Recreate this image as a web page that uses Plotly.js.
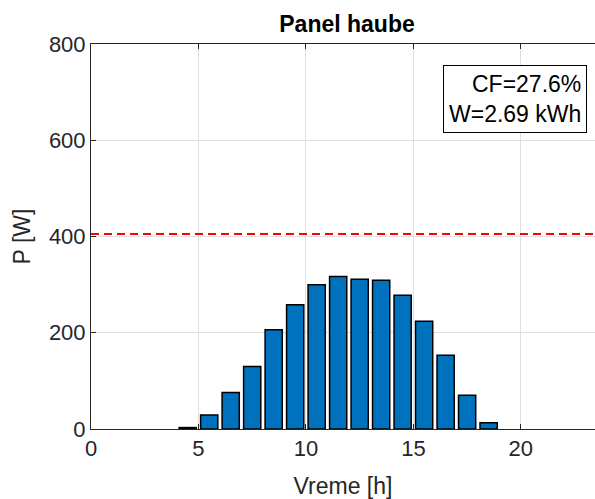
<!DOCTYPE html>
<html>
<head>
<meta charset="utf-8">
<script src="https://cdn.plot.ly/plotly-3.0.1.min.js"></script>
<style>html,body{margin:0;padding:0;background:#fff;}#chart{width:595px;height:499px;}</style>
</head>
<body>
<div id="chart"></div>
<script>
// Data
const hours = [0.5,1.5,2.5,3.5,4.5,5.5,6.5,7.5,8.5,9.5,10.5,11.5,12.5,13.5,14.5,15.5,16.5,17.5,18.5,19.5,20.5,21.5,22.5,23.5];
const power = [0,0,0,0,3,29,76,130,206,258,300,317,311,309,278,224,153,70,13,0,0,0,0,0];
const ratedPower = 405;
const limitX = [0, 24];
const limitY = [ratedPower, ratedPower];
const chartTitle = "Panel haube";
const xLabel = "Vreme [h]";
const yLabel = "P [W]";
const infoText = ["CF=27.6%", "W=2.69 kWh"];
const xTicks = [0,5,10,15,20];
const yTicks = [0,200,400,600,800];

const FONT = "Liberation Sans, Arial, Helvetica, sans-serif";
const TXT = "#262626";

const traces = [
  {
    type: "bar",
    x: hours,
    y: power,
    width: 0.8,
    marker: {color: "#0072BD", line: {color: "#000000", width: power.map(v => v > 0 ? 1.5 : 0)}},
    hoverinfo: "x+y",
    showlegend: false
  },
  {
    type: "scatter",
    mode: "lines",
    x: limitX,
    y: limitY,
    line: {color: "#FF0000", width: 2, dash: "8px,5px"},
    showlegend: false
  }
];

const layout = {
  width: 595,
  height: 499,
  margin: {l: 91, r: 0, t: 44, b: 70},
  paper_bgcolor: "#ffffff",
  plot_bgcolor: "#ffffff",
  font: {family: FONT, color: TXT, size: 22},
  bargap: 0,
  title: {
    text: "<b>" + chartTitle + "</b>",
    font: {family: FONT, size: 23, color: "#000000"},
    x: 347/595, xref: "container", xanchor: "center",
    y: 1 - 24/499, yref: "container", yanchor: "middle"
  },
  xaxis: {
    range: [0, 23.45],
    tickvals: xTicks,
    ticktext: xTicks.map(String),
    ticks: "inside",
    ticklen: 5,
    tickcolor: TXT,
    showline: true,
    linecolor: TXT,
    linewidth: 1,
    mirror: "ticks",
    showgrid: true,
    gridcolor: "#dfdfdf",
    gridwidth: 1,
    zeroline: false,
    tickfont: {family: FONT, size: 22, color: TXT},
    title: {text: xLabel, font: {family: FONT, size: 23, color: TXT}, standoff: 18}
  },
  yaxis: {
    range: [0, 800],
    tickvals: yTicks,
    ticktext: yTicks.map(String),
    ticks: "inside",
    ticklen: 5,
    tickcolor: TXT,
    showline: true,
    linecolor: TXT,
    linewidth: 1,
    mirror: false,
    showgrid: true,
    gridcolor: "#dfdfdf",
    gridwidth: 1,
    zeroline: false,
    tickfont: {family: FONT, size: 22, color: TXT},
    title: {text: yLabel, font: {family: FONT, size: 23, color: TXT}, standoff: 11}
  },
  annotations: [
    {
      xref: "paper", yref: "paper",
      x: 0.984, y: 0.9455,
      xanchor: "right", yanchor: "top",
      align: "right",
      showarrow: false,
      text: infoText.join("<br>"),
      font: {family: FONT, size: 23, color: "#000000"},
      bgcolor: "#ffffff",
      bordercolor: "#000000",
      borderwidth: 1,
      borderpad: 5
    }
  ]
};

Plotly.newPlot("chart", traces, layout, {displayModeBar: false, staticPlot: true});
</script>
</body>
</html>
